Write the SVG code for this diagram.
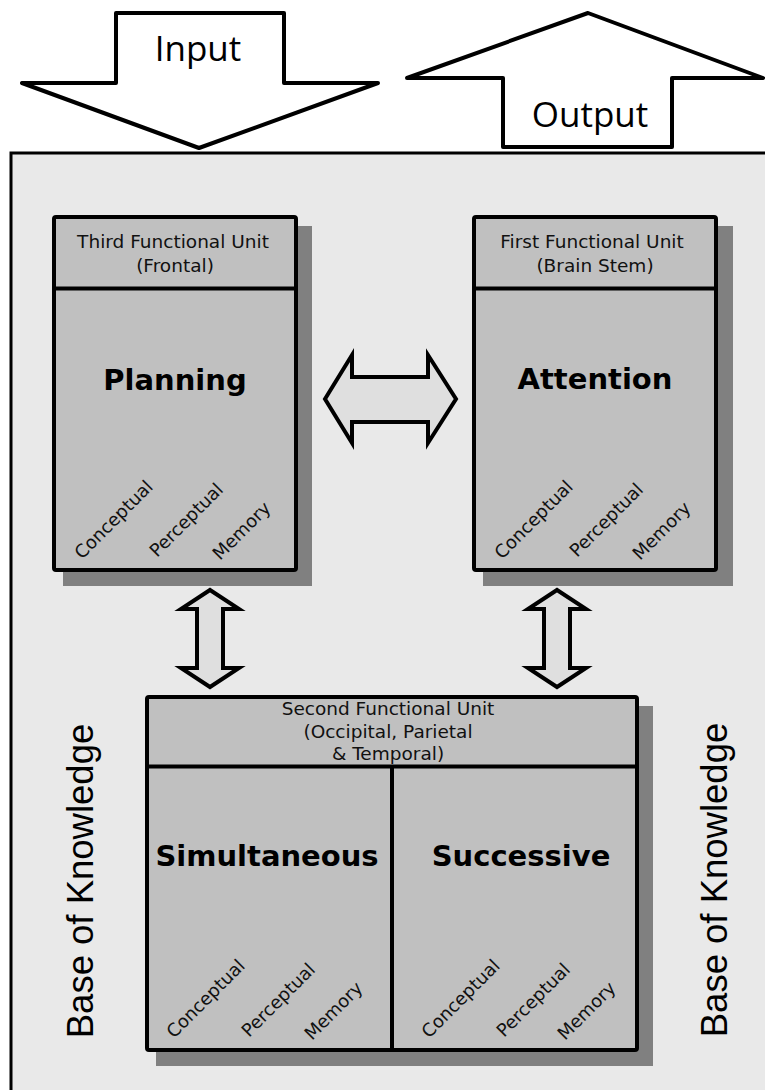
<svg xmlns="http://www.w3.org/2000/svg" width="765" height="1090" viewBox="0 0 765 1090">
<style>
.frame{fill:#e9e9e9;stroke:#000;stroke-width:3}
.big{fill:#fff;stroke:#000;stroke-width:4;stroke-linejoin:round}
.dbl{fill:#dfdfdf;stroke:#000;stroke-width:4;stroke-linejoin:miter}
.shadow{fill:#808080}
.box{fill:#c0c0c0;stroke:#000;stroke-width:4}
.sep{stroke:#000;stroke-width:4}
.hdr{font-family:"DejaVu Sans",Verdana,sans-serif;font-size:18.5px;fill:#111;text-anchor:middle}
.title{font-family:"DejaVu Sans",Verdana,sans-serif;font-size:29px;font-weight:bold;fill:#000;text-anchor:middle}
.diag{font-family:"DejaVu Sans",Verdana,sans-serif;font-size:18px;fill:#111}
.io{font-family:"Open Sans",sans-serif;font-size:35px;fill:#000;text-anchor:middle}
.bok{font-family:"Liberation Sans",Arial,sans-serif;font-size:36.5px;fill:#000;text-anchor:middle}
</style>
<g id="frame">
<rect class="frame" x="11" y="153" width="770" height="960"/>
</g>
<g id="input-arrow">
<polygon class="big" points="116,13 284,13 284,83 378,83 199,148 22,83 116,83"/>
<text class="io" x="198" y="61">Input</text>
</g>
<g id="output-arrow">
<polygon class="big" points="588,13 763,78 672,78 672,147 503,147 503,78 407,78"/>
<text class="io" x="590" y="127">Output</text>
</g>
<g id="planning">
<rect class="shadow" x="63" y="226" width="249" height="360"/>
<rect class="box" x="54" y="217" width="242" height="353" rx="2"/>
<line class="sep" x1="54" y1="288.5" x2="296" y2="288.5"/>
<text class="hdr" x="173" y="248">Third Functional Unit</text>
<text class="hdr" x="175" y="272">(Frontal)</text>
<text class="title" x="175" y="390">Planning</text>
<text class="diag" transform="translate(82,560) rotate(-45)">Conceptual</text>
<text class="diag" transform="translate(157,558) rotate(-45)">Perceptual</text>
<text class="diag" transform="translate(220,561) rotate(-45)">Memory</text>
</g>
<g id="attention">
<rect class="shadow" x="483" y="226" width="250" height="360"/>
<rect class="box" x="474" y="217" width="242" height="353" rx="2"/>
<line class="sep" x1="474" y1="288.5" x2="716" y2="288.5"/>
<text class="hdr" x="592" y="248">First Functional Unit</text>
<text class="hdr" x="595" y="272">(Brain Stem)</text>
<text class="title" x="595" y="389">Attention</text>
<text class="diag" transform="translate(502,560) rotate(-45)">Conceptual</text>
<text class="diag" transform="translate(577,558) rotate(-45)">Perceptual</text>
<text class="diag" transform="translate(640,561) rotate(-45)">Memory</text>
</g>
<g id="second-unit">
<rect class="shadow" x="156" y="706" width="497" height="360"/>
<rect class="box" x="147" y="697" width="490" height="353" rx="2"/>
<line class="sep" x1="147" y1="766.5" x2="637" y2="766.5"/>
<line class="sep" x1="392" y1="766.5" x2="392" y2="1050"/>
<text class="hdr" x="388" y="715">Second Functional Unit</text>
<text class="hdr" x="388" y="738">(Occipital, Parietal</text>
<text class="hdr" x="388" y="760">&amp; Temporal)</text>
<text class="title" x="267" y="866">Simultaneous</text>
<text class="title" x="521" y="866">Successive</text>
<text class="diag" transform="translate(174,1039) rotate(-45)">Conceptual</text>
<text class="diag" transform="translate(249,1038) rotate(-45)">Perceptual</text>
<text class="diag" transform="translate(312,1041) rotate(-45)">Memory</text>
<text class="diag" transform="translate(429,1039) rotate(-45)">Conceptual</text>
<text class="diag" transform="translate(504,1038) rotate(-45)">Perceptual</text>
<text class="diag" transform="translate(565,1041) rotate(-45)">Memory</text>
</g>
<g id="base-left">
<text class="bok" transform="translate(93,881) rotate(-90)">Base of Knowledge</text>
</g>
<g id="base-right">
<text class="bok" transform="translate(727,880) rotate(-90)">Base of Knowledge</text>
</g>
<g id="connectors">
<polygon class="dbl" points="325,399 352,355 352,377 428,377 428,355 456,399 428,443 428,422 352,422 352,443"/>
<polygon class="dbl" points="210,590 239,609 223,609 223,668 239,668 210,687 181,668 197,668 197,609 181,609"/>
<polygon class="dbl" points="557,590 586,609 570,609 570,668 586,668 557,687 528,668 544,668 544,609 528,609"/>
</g>
</svg>
